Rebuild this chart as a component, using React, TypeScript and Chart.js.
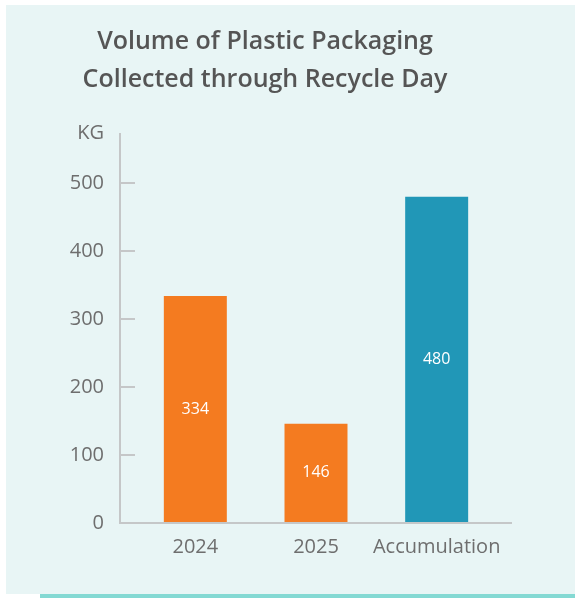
import React, { useEffect, useRef } from "react";
import { Chart, registerables } from "chart.js";

Chart.register(...registerables);

const titleLines = ["Volume of Plastic Packaging", "Collected through Recycle Day"];
const categories = ["2024", "2025", "Accumulation"];
const volumes = [334, 146, 480];
const barColors = ["#F47B20", "#F47B20", "#2197B7"];
const yTickValues = [0, 100, 200, 300, 400, 500];
const yUnit = "KG";
const yMax = 574;

const FONT = "'Open Sans', 'Noto Sans', sans-serif";
const AXIS_COLOR = "#C5C7C8";
const TEXT_COLOR = "#6E6E6E";

const axisPlugin = {
  id: "customAxes",
  afterDatasetsDraw(chart: any) {
    const { ctx, chartArea } = chart;
    const x0 = chartArea.left - 15;
    ctx.save();
    ctx.strokeStyle = AXIS_COLOR;
    ctx.lineWidth = 2;
    ctx.beginPath();
    ctx.moveTo(x0, chartArea.top);
    ctx.lineTo(x0, chartArea.bottom);
    ctx.lineTo(chartArea.right + 15, chartArea.bottom);
    ctx.stroke();
    const meta = chart.getDatasetMeta(0);
    ctx.fillStyle = "#FFFFFF";
    ctx.font = `16px ${FONT}`;
    ctx.textAlign = "center";
    ctx.textBaseline = "middle";
    meta.data.forEach((bar: any, i: number) => {
      const v = chart.data.datasets[0].data[i];
      const yMid = (bar.y + bar.base) / 2;
      ctx.fillText(String(v), bar.x, yMid);
    });
    ctx.restore();
  },
};

export default function App() {
  const ref = useRef<HTMLCanvasElement>(null);
  useEffect(() => {
    if (!ref.current) return;
    const chart = new Chart(ref.current, {
      type: "bar",
      data: {
        labels: categories,
        datasets: [
          {
            data: volumes,
            backgroundColor: barColors,
            borderWidth: 0,
            categoryPercentage: 1,
            barPercentage: 0.522,
          },
        ],
      },
      options: {
        responsive: false,
        animation: false,
        layout: { padding: { left: 27, right: 78, top: 0, bottom: 0 } },
        plugins: {
          legend: { display: false },
          tooltip: { enabled: false },
          title: {
            display: true,
            text: titleLines,
            color: "#555555",
            font: { family: FONT, size: 25, weight: "600", lineHeight: 1.52 },
            padding: { top: 17.5, bottom: 34.5 },
          },
        },
        scales: {
          x: {
            type: "category",
            grid: { display: false, drawTicks: false },
            border: { display: false },
            ticks: {
              color: TEXT_COLOR,
              font: { family: FONT, size: 20 },
              padding: 12,
              maxRotation: 0,
              minRotation: 0,
              autoSkip: false,
            },
            afterFit(scale: any) {
              scale.height = 71;
            },
          },
          y: {
            type: "linear",
            min: 0,
            max: yMax,
            grid: {
              drawOnChartArea: false,
              drawTicks: true,
              tickLength: 15,
              lineWidth: 2,
              color: (c: any) => (c.tick && c.tick.value === yMax ? "rgba(0,0,0,0)" : AXIS_COLOR),
            },
            border: { display: false },
            ticks: {
              color: TEXT_COLOR,
              font: { family: FONT, size: 20 },
              padding: 16,
              callback: (v: any) => (v === yMax ? yUnit : String(v)),
            },
            afterBuildTicks(scale: any) {
              scale.ticks = [...yTickValues, yMax].map((v) => ({ value: v }));
            },
            afterFit(scale: any) {
              scale.width = 102;
            },
          },
        },
      },
      plugins: [axisPlugin],
    });
    return () => chart.destroy();
  }, []);

  return (
    <div style={{ position: "absolute", left: 0, top: 0, width: 575, height: 598, background: "#FFFFFF" }}>
      <div style={{ position: "absolute", left: 6, top: 5, width: 569, height: 589, background: "#E8F5F5" }}>
        <canvas ref={ref} width={569} height={589} style={{ display: "block" }} />
      </div>
      <div style={{ position: "absolute", left: 40, top: 594, width: 535, height: 4, background: "#84D9D3" }} />
    </div>
  );
}
